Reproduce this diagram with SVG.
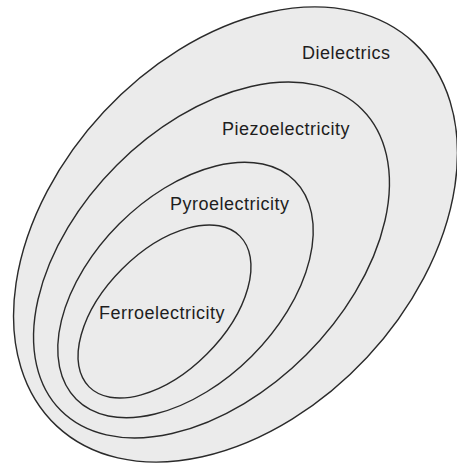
<svg xmlns="http://www.w3.org/2000/svg" width="457" height="467" viewBox="0 0 457 467">
<style>
.ring{fill:#ebebeb;stroke:#2a2a2a;stroke-width:1.4}
.lbl{font-family:"Liberation Sans",Arial,sans-serif;font-size:18px;letter-spacing:0.5px;fill:#1e1e1e}
</style>
<rect width="457" height="467" fill="#ffffff"/>
<g id="dielectrics">
<ellipse class="ring" cx="235.5" cy="234.5" rx="262" ry="180" transform="rotate(-47 235.5 234.5)"/>
<text class="lbl" x="302" y="59">Dielectrics</text>
</g>
<g id="piezoelectricity">
<ellipse class="ring" cx="211.5" cy="260" rx="213" ry="134" transform="rotate(-45 211.5 260)"/>
<text class="lbl" x="222" y="135">Piezoelectricity</text>
</g>
<g id="pyroelectricity">
<ellipse class="ring" cx="185.5" cy="290" rx="154.5" ry="93.6" transform="rotate(-45 185.5 290)"/>
<text class="lbl" x="170" y="210">Pyroelectricity</text>
</g>
<g id="ferroelectricity">
<ellipse class="ring" cx="164.5" cy="311.5" rx="106.6" ry="60" transform="rotate(-45 164.5 311.5)"/>
<text class="lbl" x="99" y="319">Ferroelectricity</text>
</g>
<g id="connectors"/>
</svg>
